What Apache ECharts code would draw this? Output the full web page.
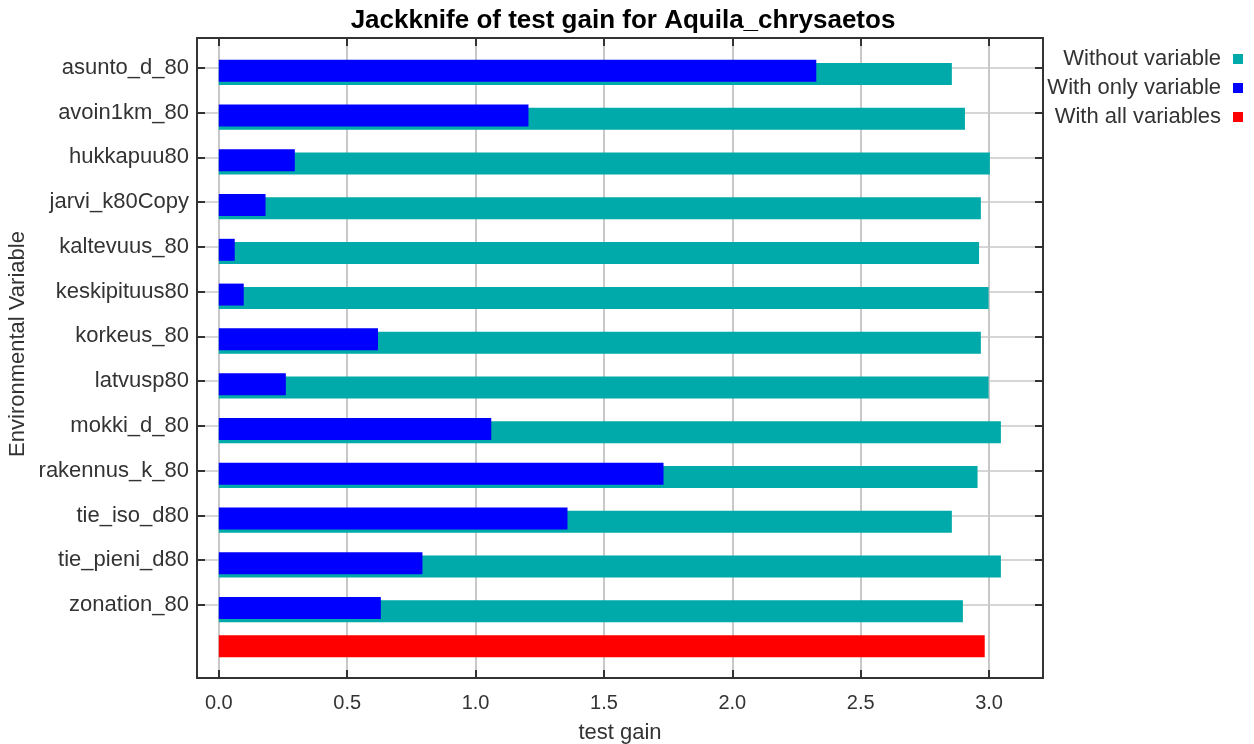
<!DOCTYPE html>
<html>
<head>
<meta charset="utf-8">
<title>Jackknife of test gain</title>
<script src="https://cdn.jsdelivr.net/npm/echarts@6/dist/echarts.min.js"></script>
<style>
  html, body { margin: 0; padding: 0; background: #fff; }
  #chart { width: 1254px; height: 744px; }
</style>
</head>
<body>
<div id="chart"></div>
<script>
// values
const variables = ['asunto_d_80', 'avoin1km_80', 'hukkapuu80', 'jarvi_k80Copy', 'kaltevuus_80',
    'keskipituus80', 'korkeus_80', 'latvusp80', 'mokki_d_80', 'rakennus_k_80',
    'tie_iso_d80', 'tie_pieni_d80', 'zonation_80'];
const withoutVariable = [2.855, 2.906, 3.003, 2.968, 2.961, 2.998, 2.968, 2.998, 3.046, 2.955, 2.855, 3.046, 2.898];
const withOnlyVariable = [2.327, 1.206, 0.296, 0.182, 0.062, 0.097, 0.620, 0.261, 1.061, 1.732, 1.358, 0.793, 0.631];
const withAllVariables = 2.983;
const legendNames = ['Without variable', 'With only variable', 'With all variables'];

const xMin = -0.085, xMax = 3.21;
const rows = variables.concat(['']);   // last row holds the red bar
const lastRow = rows.length - 1;
const font = 'Liberation Sans';
const dark = '#333';

const notLast = (i) => i < lastRow;
const hiddenValue = (grid) => ({type: 'value', gridIndex: grid, min: xMin, max: xMax, show: false});
const gridAt = (top, bottom) => ({left: 197, right: 211, top: top, bottom: bottom, outerBoundsMode: 'none', containLabel: false});

const option = {
    animation: false,
    title: {
        text: 'Jackknife of test gain for Aquila_chrysaetos',
        left: 618, top: 3, textAlign: 'center',
        textStyle: {fontFamily: font, fontSize: 26, fontWeight: 'bold', color: '#000'}
    },
    legend: {
        orient: 'vertical', align: 'right', right: 6, top: 43,
        itemWidth: 10, itemHeight: 10, itemGap: 7, icon: 'rect',
        data: legendNames,
        textStyle: {fontFamily: font, fontSize: 22, color: dark, padding: [0, 7, 0, 0]}
    },
    grid: [
        gridAt(38, 66),          // frame
        gridAt(67.7, 94.2),      // tick rows
        gridAt(69.05, 92.85)     // bars
    ],
    xAxis: [{
        type: 'value', gridIndex: 0, position: 'bottom', min: xMin, max: xMax,
        axisLine: {onZero: false, lineStyle: {color: dark, width: 2}},
        axisTick: {inside: true, length: 8, lineStyle: {color: dark, width: 2}},
        axisLabel: {
            margin: 15, fontFamily: font, fontSize: 20, color: dark,
            formatter: v => Math.abs(v * 2 - Math.round(v * 2)) < 1e-6 ? v.toFixed(1) : ''
        },
        splitLine: {show: true, showMinLine: false, showMaxLine: false, lineStyle: {color: '#c8c8c8', width: 2}},
        name: 'test gain', nameLocation: 'middle', nameGap: 44,
        nameTextStyle: {fontFamily: font, fontSize: 22, color: dark}
    }, {
        type: 'value', gridIndex: 0, position: 'top', min: xMin, max: xMax,
        axisLine: {onZero: false, lineStyle: {color: dark, width: 2}},
        axisTick: {inside: true, length: 8, lineStyle: {color: dark, width: 2}},
        axisLabel: {show: false}, splitLine: {show: false}
    },
        hiddenValue(1),
        hiddenValue(2)
    ],
    yAxis: [{
        type: 'category', gridIndex: 1, position: 'left', data: rows, inverse: true, boundaryGap: false,
        axisLine: {show: false, onZero: false},
        axisTick: {inside: true, length: 8, interval: notLast, lineStyle: {color: dark, width: 2}},
        axisLabel: {margin: 8, interval: 0, fontFamily: font, fontSize: 22, color: dark},
        splitLine: {show: true, interval: notLast, lineStyle: {color: '#c8c8c8', width: 1.5}}
    }, {
        type: 'category', gridIndex: 1, position: 'right', data: rows, inverse: true, boundaryGap: false,
        axisLine: {show: false, onZero: false},
        axisTick: {inside: true, length: 8, interval: notLast, lineStyle: {color: dark, width: 2}},
        axisLabel: {show: false}, splitLine: {show: false}
    }, {
        type: 'value', gridIndex: 0, position: 'left', min: 0, max: 1,
        axisLine: {show: true, onZero: false, lineStyle: {color: dark, width: 2}},
        axisTick: {show: false}, axisLabel: {show: false}, splitLine: {show: false}
    }, {
        type: 'value', gridIndex: 0, position: 'right', min: 0, max: 1,
        axisLine: {show: true, onZero: false, lineStyle: {color: dark, width: 2}},
        axisTick: {show: false}, axisLabel: {show: false}, splitLine: {show: false}
    }, {
        type: 'category', gridIndex: 2, data: rows, inverse: true, boundaryGap: false, show: false,
        axisLine: {onZero: false}
    }],
    graphic: [{
        type: 'text', x: 18, y: 344, rotation: Math.PI / 2,
        style: {text: 'Environmental Variable', fontFamily: font, fontSize: 22, fill: dark,
            align: 'center', verticalAlign: 'middle'}
    }],
    series: [{
        name: 'With all variables', type: 'bar', xAxisIndex: 3, yAxisIndex: 4,
        barWidth: 22, barGap: '-85%', z: 2,
        itemStyle: {color: '#ff0000'},
        data: rows.map((_, i) => i === lastRow ? withAllVariables : '-')
    }, {
        // empty slot so the red bar sits two steps above the blue one
        type: 'bar', xAxisIndex: 3, yAxisIndex: 4, barWidth: 22, barGap: '-85%',
        data: rows.map(() => '-')
    }, {
        name: 'With only variable', type: 'bar', xAxisIndex: 3, yAxisIndex: 4,
        barWidth: 22, barGap: '-85%', z: 3,
        itemStyle: {color: '#0000ff'},
        data: withOnlyVariable.concat(['-'])
    }, {
        name: 'Without variable', type: 'bar', xAxisIndex: 3, yAxisIndex: 4,
        barWidth: 22, barGap: '-85%', z: 2,
        itemStyle: {color: '#00aaaa'},
        data: withoutVariable.concat(['-'])
    }]
};

const myChart = echarts.init(document.getElementById('chart'));
myChart.setOption(option);
</script>
</body>
</html>
